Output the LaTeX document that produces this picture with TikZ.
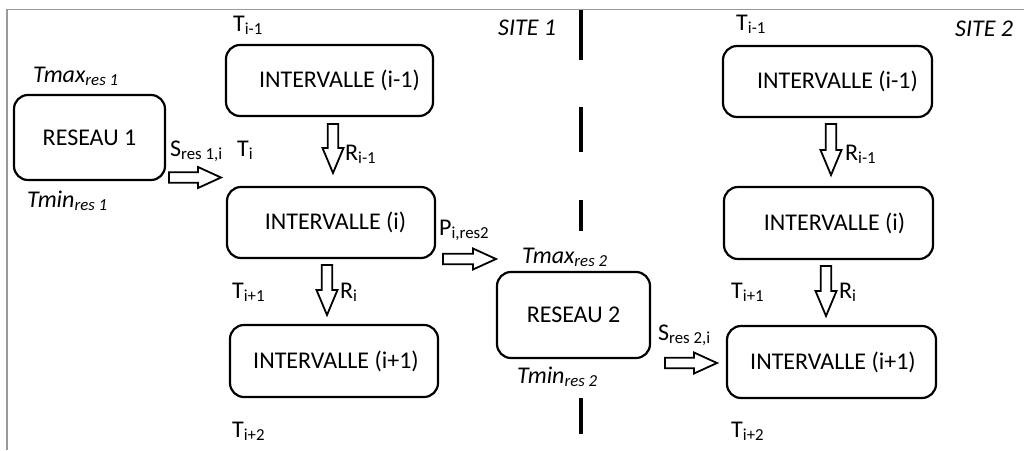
\documentclass[tikz,border=0pt]{standalone}
\usepackage{fontspec}
\setmainfont{Carlito}
\usetikzlibrary{calc}
\newcommand\rblock[2]{\draw[blk] ($(#1)+(0,-5.3)$) -- ($(#2)+(-23,-5.3)$) -- ($(#2)+(-23,-10.5)$) -- (#2) -- ($(#2)+(-23,10.5)$) -- ($(#2)+(-23,5.3)$) -- ($(#1)+(0,5.3)$) -- cycle;}
\newcommand\dblock[2]{\draw[blk] ($(#1)+(-5.3,0)$) -- ($(#2)+(-5.3,-25)$) -- ($(#2)+(-10.5,-25)$) -- (#2) -- ($(#2)+(10.5,-25)$) -- ($(#2)+(5.3,-25)$) -- ($(#1)+(5.3,0)$) -- cycle;}
\begin{document}
\begin{tikzpicture}[x=1pt,y=-1pt,
 box/.style={draw, line width=2.2pt, rounded corners=14pt, inner sep=0pt, fill=white, font=\fontsize{24}{28}\selectfont},
 lbl/.style={anchor=base west, inner sep=0pt, font=\fontsize{24}{28}\selectfont},
 ilbl/.style={anchor=base west, inner sep=0pt, font=\fontsize{24}{28}\selectfont\itshape},
 blk/.style={draw, line width=1.8pt, fill=white, line join=miter},
 sepline/.style={line width=4pt},
 frameline/.style={draw=black!40, line width=1.5pt}]
\useasboundingbox (0,0) rectangle (1024,450);

% frame
\coordinate (fr1) at (7,450);
\coordinate (fr2) at (7,9.5);
\coordinate (fr3) at (1024,9.5);
\draw[frameline] (fr1) -- (fr2) -- (fr3);

% site separator
\foreach \ya/\yb in {10/60, 107/152, 200/231, 398/434}
  \draw[sepline] (581,\ya) -- (581,\yb);

% boxes
\node[box, minimum width=151pt, minimum height=85pt] (r1) at (89.5,137.5) {RESEAU 1};
\node[box, minimum width=207pt, minimum height=71pt] (s1a) at (329.5,80.5) {\hspace*{20pt}INTERVALLE (i-1)};
\node[box, minimum width=208pt, minimum height=71pt] (s1b) at (331,222.5) {\hspace*{9pt}INTERVALLE (i)};
\node[box, minimum width=208pt, minimum height=72pt] (s1c) at (334,361) {\hspace*{4pt}INTERVALLE (i+1)};
\node[box, minimum width=153pt, minimum height=86pt] (r2) at (573.5,315) {RESEAU 2};
\node[box, minimum width=209pt, minimum height=71pt] (s2a) at (827.5,81.5) {\hspace*{20pt}INTERVALLE (i-1)};
\node[box, minimum width=209pt, minimum height=72pt] (s2b) at (828.5,223) {\hspace*{12pt}INTERVALLE (i)};
\node[box, minimum width=209pt, minimum height=72pt] (s2c) at (831.5,362) {\hspace*{3pt}INTERVALLE (i+1)};

% arrow end points
\coordinate (a1s) at (169,177.5);  \coordinate (a1e) at (221,177.5);
\coordinate (d1s) at (333,124);    \coordinate (d1e) at (333,173);
\coordinate (d2s) at (327,265);    \coordinate (d2e) at (327,315);
\coordinate (pas) at (443,259);    \coordinate (pae) at (496,259);
\coordinate (a2s) at (665,363);    \coordinate (a2e) at (717,363);
\coordinate (d3s) at (831,124);    \coordinate (d3e) at (831,175);
\coordinate (d4s) at (826,266);    \coordinate (d4e) at (826,316);

\rblock{a1s}{a1e}
\dblock{d1s}{d1e}
\dblock{d2s}{d2e}
\rblock{pas}{pae}
\rblock{a2s}{a2e}
\dblock{d3s}{d3e}
\dblock{d4s}{d4e}

% labels
\node[lbl] (t1a) at (233,31) {T\textsubscript{i-1}};
\node[ilbl] (tmax1) at (33,82) {Tmax\textsubscript{res 1}};
\node[ilbl] (tmin1) at (27,207) {Tmin\textsubscript{res 1}};
\node[lbl] (sr1) at (170,156) {S\textsubscript{res 1,i}};
\node[lbl] (t1b) at (237,156) {T\textsubscript{i}};
\node[lbl] (r1a) at (345,160) {R\textsubscript{i-1}};
\node[ilbl] (site1) at (498,35) {SITE 1};
\node[ilbl] (site2) at (955,36) {SITE 2};
\node[lbl] (pi) at (439,235) {P\textsubscript{i,res2}};
\node[lbl] (t1c) at (232,298) {T\textsubscript{i+1}};
\node[lbl] (r1b) at (340,298) {R\textsubscript{i}};
\node[lbl] (t1d) at (232,437) {T\textsubscript{i+2}};
\node[ilbl] (tmax2) at (522,263) {Tmax\textsubscript{res 2}};
\node[ilbl] (tmin2) at (517,383) {Tmin\textsubscript{res 2}};
\node[lbl] (sr2) at (658,340) {S\textsubscript{res 2,i}};
\node[lbl] (t2a) at (736,30) {T\textsubscript{i-1}};
\node[lbl] (r2a) at (845,160) {R\textsubscript{i-1}};
\node[lbl] (t2c) at (731,298) {T\textsubscript{i+1}};
\node[lbl] (r2b) at (839,298) {R\textsubscript{i}};
\node[lbl] (t2d) at (731,437) {T\textsubscript{i+2}};
\end{tikzpicture}
\end{document}
